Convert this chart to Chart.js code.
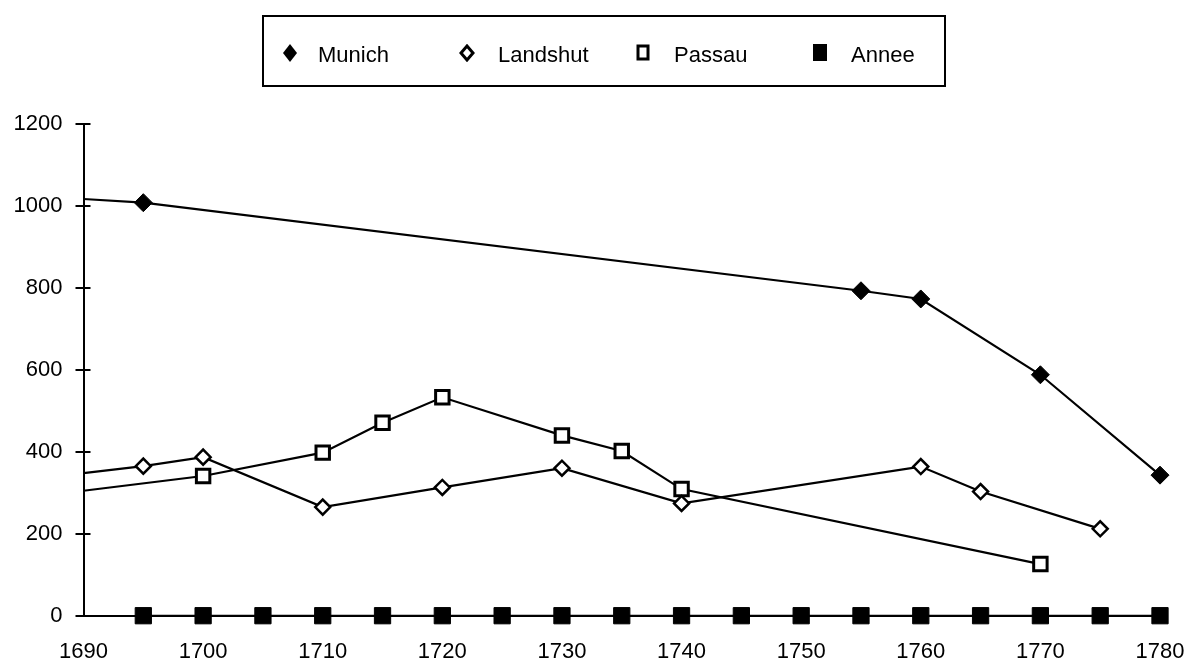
<!DOCTYPE html>
<html>
<head>
<meta charset="utf-8">
<script src="https://cdn.jsdelivr.net/npm/chart.js@4.4.1/dist/chart.umd.min.js"></script>
<style>
  html, body { margin: 0; padding: 0; background: #fff; }
  #wrap { position: relative; width: 1192px; height: 665px; overflow: hidden; }
  #c { position: absolute; left: 0; top: 0; }
  #legend { position: absolute; left: 262px; top: 15px; width: 680px; height: 68px;
            border: 2px solid #000; box-sizing: content-box; }
  .lg { position: absolute; font-family: "Liberation Sans", Arial, sans-serif; font-size: 22px;
        color: #000; line-height: 26px; top: 27px; white-space: nowrap; }
  .mk { position: absolute; }
</style>
</head>
<body>
<div id="wrap">
  <canvas id="c" width="1192" height="665"></canvas>
  <div id="legend"></div>
</div>
<script>
// ---- data ----
const seriesNames = ["Munich", "Landshut", "Passau", "Annee"];

const munichYears  = [1690, 1695, 1755, 1760, 1770, 1780];
const munichValues = [1017, 1008, 793, 773, 588, 343];

const landshutYears  = [1690, 1695, 1700, 1710, 1720, 1730, 1740, 1760, 1765, 1775];
const landshutValues = [348, 365, 387, 265, 313, 360, 274, 364, 303, 212];

const passauYears  = [1690, 1700, 1710, 1715, 1720, 1730, 1735, 1740, 1770];
const passauValues = [305, 341, 398, 471, 533, 440, 402, 309, 126];

const anneeYears  = [1695, 1700, 1705, 1710, 1715, 1720, 1725, 1730, 1735, 1740, 1745, 1750, 1755, 1760, 1765, 1770, 1775, 1780];
const anneeValues = [0, 0, 0, 0, 0, 0, 0, 0, 0, 0, 0, 0, 0, 0, 0, 0, 0, 0];

const xTickYears  = [1690, 1700, 1710, 1720, 1730, 1740, 1750, 1760, 1770, 1780];
const yTickValues = [0, 200, 400, 600, 800, 1000, 1200];

// ---- build ----
function pts(xs, ys) { return xs.map((x, i) => ({ x: x, y: ys[i] })); }
function radii(xs, r) { return xs.map(x => (x === 1690 ? 0 : r)); }

const FONT = "'Liberation Sans', Arial, sans-serif";

const yCrossTicks = {
  id: 'yCrossTicks',
  afterDraw(chart) {
    const ctx = chart.ctx, ys = chart.scales.y, xs = chart.scales.x;
    const x0 = xs.getPixelForValue(1690);
    ctx.save();
    ctx.strokeStyle = '#000';
    ctx.lineWidth = 2;
    yTickValues.forEach(v => {
      const y = Math.round(ys.getPixelForValue(v));
      ctx.beginPath();
      ctx.moveTo(x0 - 8, y);
      ctx.lineTo(x0 + 7, y);
      ctx.stroke();
    });
    ctx.restore();
  }
};

const chart = new Chart(document.getElementById('c'), {
  type: 'line',
  data: {
    datasets: [
      { label: seriesNames[0], data: pts(munichYears, munichValues),
        borderColor: '#000', borderWidth: 2.2, backgroundColor: '#000',
        pointStyle: 'rectRot', pointRadius: radii(munichYears, 9),
        pointBackgroundColor: '#000', pointBorderColor: '#000', pointBorderWidth: 1 },
      { label: seriesNames[1], data: pts(landshutYears, landshutValues),
        borderColor: '#000', borderWidth: 2.2, backgroundColor: '#fff',
        pointStyle: 'rectRot', pointRadius: radii(landshutYears, 7.5),
        pointBackgroundColor: '#fff', pointBorderColor: '#000', pointBorderWidth: 2.5 },
      { label: seriesNames[2], data: pts(passauYears, passauValues),
        borderColor: '#000', borderWidth: 2.2, backgroundColor: '#fff',
        pointStyle: 'rect', pointRadius: radii(passauYears, 9.5),
        pointBackgroundColor: '#fff', pointBorderColor: '#000', pointBorderWidth: 3 },
      { label: seriesNames[3], data: pts(anneeYears, anneeValues),
        borderColor: '#000', borderWidth: 2, backgroundColor: '#000',
        pointStyle: 'rect', pointRadius: 11.5,
        pointBackgroundColor: '#000', pointBorderColor: '#000', pointBorderWidth: 1 }
    ]
  },
  options: {
    responsive: false,
    animation: false,
    devicePixelRatio: 1,
    clip: false,
    layout: { padding: { top: 124, right: 32, bottom: 0, left: 0 } },
    plugins: { legend: { display: false }, tooltip: { enabled: false } },
    elements: { line: { tension: 0 } },
    scales: {
      x: {
        type: 'linear', min: 1690, max: 1780,
        afterBuildTicks(s) { s.ticks = xTickYears.map(v => ({ value: v })); },
        afterFit(s) { s.height = 49.3; s.paddingLeft = 0; s.paddingRight = 0; },
        grid: { drawOnChartArea: false, drawTicks: false },
        border: { color: '#000', width: 2 },
        ticks: { color: '#000', padding: 23, maxRotation: 0, autoSkip: false,
                 font: { family: FONT, size: 22 },
                 callback: v => String(v) }
      },
      y: {
        type: 'linear', min: 0, max: 1200,
        afterBuildTicks(s) { s.ticks = yTickValues.map(v => ({ value: v })); },
        afterFit(s) { s.width = 83.5; s.paddingTop = 0; s.paddingBottom = 0; },
        grid: { drawOnChartArea: false, drawTicks: false },
        border: { color: '#000', width: 2 },
        ticks: { color: '#000', padding: 21, font: { family: FONT, size: 22 },
                 callback: v => String(v) }
      }
    }
  },
  plugins: [yCrossTicks]
});

// ---- legend (HTML, positioned like the reference) ----
const legendItems = [
  { name: seriesNames[0], mx: 290, tx: 318,
    svg: '<svg width="16" height="20"><polygon points="8,1 15,10 8,19 1,10" fill="#000"/></svg>' },
  { name: seriesNames[1], mx: 467, tx: 498,
    svg: '<svg width="16" height="18"><polygon points="8,2 14,9 8,16 2,9" fill="#fff" stroke="#000" stroke-width="3"/></svg>' },
  { name: seriesNames[2], mx: 643, tx: 674,
    svg: '<svg width="14" height="18"><rect x="2" y="2" width="10" height="13" fill="#fff" stroke="#000" stroke-width="3"/></svg>' },
  { name: seriesNames[3], mx: 820, tx: 851,
    svg: '<svg width="16" height="20"><rect x="1" y="1" width="14" height="17" fill="#000"/></svg>' }
];
const lg = document.getElementById('legend');
const L0 = 262 + 2, T0 = 15 + 2;
legendItems.forEach(it => {
  const m = document.createElement('div');
  m.className = 'mk';
  m.innerHTML = it.svg;
  lg.appendChild(m);
  const svg = m.querySelector('svg');
  const w = +svg.getAttribute('width'), h = +svg.getAttribute('height');
  m.style.left = (it.mx - w / 2 - L0) + 'px';
  m.style.top = (53 - h / 2 - T0) + 'px';
  const t = document.createElement('div');
  t.className = 'lg';
  t.textContent = it.name;
  t.style.left = (it.tx - L0) + 'px';
  t.style.top = (55 - 13 - T0) + 'px';
  lg.appendChild(t);
});
</script>
</body>
</html>
